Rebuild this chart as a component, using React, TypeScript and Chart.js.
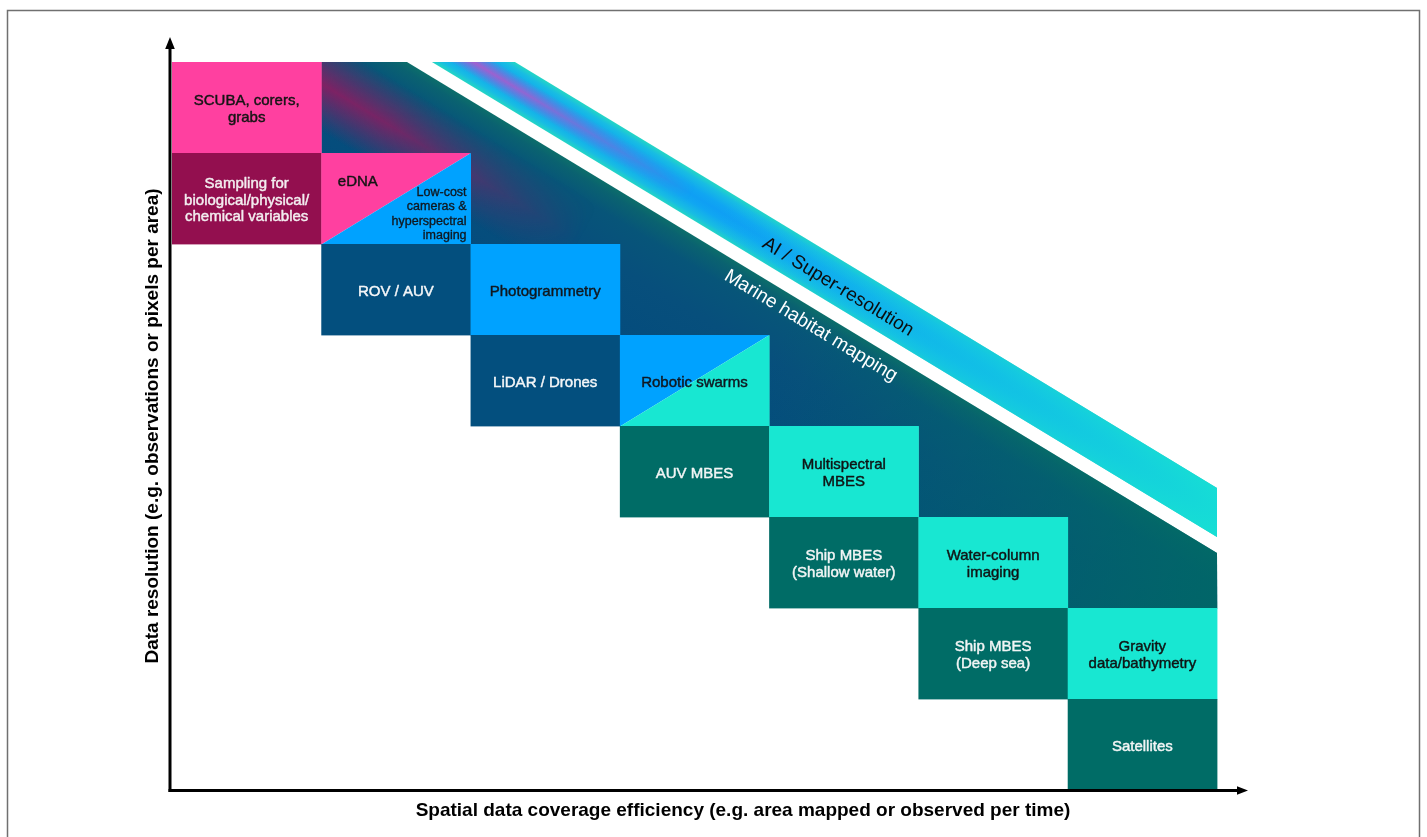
import React, { useEffect, useRef } from 'react';
import { Chart, registerables } from 'chart.js';

Chart.register(...registerables);

const CANVAS_W = 1427;
const CANVAS_H = 837;

// ---- data: cells on a 7 (coverage) x 8 (resolution, top = highest) grid ----
const cellLabels = [
  'SCUBA, corers,\ngrabs',
  'Sampling for\nbiological/physical/\nchemical variables',
  'eDNA',
  'ROV / AUV',
  'Photogrammetry',
  'LiDAR / Drones',
  'Robotic swarms',
  'AUV MBES',
  'Multispectral\nMBES',
  'Ship MBES\n(Shallow water)',
  'Water-column\nimaging',
  'Ship MBES\n(Deep sea)',
  'Gravity\ndata/bathymetry',
  'Satellites',
];
const cellSubLabels = ['', '', 'Low-cost\ncameras &\nhyperspectral\nimaging', '', '', '', '', '', '', '', '', '', '', ''];
const cellCol = [0, 0, 1, 1, 2, 2, 3, 3, 4, 4, 5, 5, 6, 6];
const cellRow = [0, 1, 1, 2, 2, 3, 3, 4, 4, 5, 5, 6, 6, 7];
const cellKind = ['pink', 'wine', 'pink/blue', 'navy', 'blue', 'navy', 'blue/teal', 'darkteal', 'teal', 'darkteal', 'teal', 'darkteal', 'teal', 'darkteal'];

// diagonal bands, in axis units [x0, y0, x1, y1]
const marineEdge = [1.574, 0, 7, 5.396];
const aiLowerEdge = [1.741, 0, 7, 5.22];
const aiUpperEdge = [2.297, 0, 7, 4.68];
const bandLabels = ['Marine habitat mapping', 'AI / Super-resolution'];
const bandLabelX = [4.28, 4.461];
const bandLabelY = [2.9, 2.473];

const xAxisTitle = 'Spatial data coverage efficiency (e.g. area mapped or observed per time)';
const yAxisTitle = 'Data resolution (e.g. observations or pixels per area)';

// ---- styles ----
const PALETTE: Record<string, string> = {
  pink: '#ff40a0',
  wine: '#930f4f',
  blue: '#00a2ff',
  navy: '#034f7e',
  teal: '#18e7d2',
  darkteal: '#006c66',
};
const TEXT_COLOR: Record<string, string> = {
  pink: '#151515',
  wine: '#f3eef0',
  blue: '#101820',
  navy: '#f4f6f8',
  teal: '#101515',
  darkteal: '#f2f5f5',
};
const FONT = '"Liberation Sans", Arial, Helvetica, sans-serif';

function drawLines(ctx: CanvasRenderingContext2D, text: string, x: number, y: number, lh: number, align: CanvasTextAlign, weight = 0.45) {
  const lines = text.split('\n');
  ctx.textAlign = align;
  ctx.textBaseline = 'middle';
  ctx.lineWidth = weight;
  ctx.strokeStyle = ctx.fillStyle as string;
  ctx.lineJoin = 'round';
  const y0 = y - ((lines.length - 1) * lh) / 2;
  lines.forEach((l, i) => {
    ctx.fillText(l, x, y0 + i * lh);
    if (weight > 0) ctx.strokeText(l, x, y0 + i * lh);
  });
}

const diagramPlugin = {
  id: 'diagram',
  afterDraw(chart: any) {
    const ctx: CanvasRenderingContext2D = chart.ctx;
    const xs = chart.scales.x;
    const ys = chart.scales.y;
    const px = (v: number) => xs.getPixelForValue(v);
    const py = (v: number) => ys.getPixelForValue(v);
    const W = chart.width;
    const H = chart.height;

    ctx.save();
    ctx.fillStyle = '#ffffff';
    ctx.fillRect(0, 0, W, H);

    // outer frame
    ctx.strokeStyle = '#707070';
    ctx.lineWidth = 1.5;
    ctx.beginPath();
    ctx.moveTo(7.5, H + 5);
    ctx.lineTo(7.5, 10.5);
    ctx.lineTo(1419.5, 10.5);
    ctx.lineTo(1419.5, H + 5);
    ctx.stroke();

    // ---------- Marine habitat mapping region ----------
    const m0x = px(marineEdge[0]), m0y = py(marineEdge[1]);
    const m1x = px(marineEdge[2]), m1y = py(marineEdge[3]);
    const thM = Math.atan2(m1y - m0y, m1x - m0x);
    const lenM = Math.hypot(m1x - m0x, m1y - m0y);

    ctx.save();
    ctx.beginPath();
    for (let c = 1; c <= 6; c++) {
      ctx.rect(px(c), py(0), px(c + 1) - px(c) + 0.5, py(c) - py(0) + 0.5);
    }
    ctx.clip();
    ctx.beginPath();
    ctx.moveTo(px(1) - 2, py(0));
    ctx.lineTo(m0x, m0y);
    ctx.lineTo(m1x, m1y);
    ctx.lineTo(px(7) + 2, py(8));
    ctx.lineTo(px(1) - 2, py(8));
    ctx.closePath();
    ctx.clip();

    ctx.save();
    ctx.translate(m0x, m0y);
    ctx.rotate(thM);
    const gAcross = ctx.createLinearGradient(0, 0, 0, 130);
    gAcross.addColorStop(0, '#0c6e6a');
    gAcross.addColorStop(0.06, '#0a6270');
    gAcross.addColorStop(0.2, '#075579');
    gAcross.addColorStop(0.5, '#074f7c');
    gAcross.addColorStop(1, '#044c7d');
    ctx.fillStyle = gAcross;
    ctx.fillRect(-300, -100, lenM + 600, 500);
    const gAlong = ctx.createLinearGradient(0, 0, lenM + 80, 0);
    gAlong.addColorStop(0, 'rgba(0,104,102,0)');
    gAlong.addColorStop(0.45, 'rgba(0,104,102,0)');
    gAlong.addColorStop(0.75, 'rgba(0,104,102,0.5)');
    gAlong.addColorStop(1, 'rgba(0,104,102,1)');
    ctx.fillStyle = gAlong;
    ctx.fillRect(-300, -100, lenM + 600, 500);
    ctx.restore();

    // magenta glow stripe (fades along the band)
    const offM = document.createElement('canvas');
    offM.width = W;
    offM.height = H;
    const om = offM.getContext('2d')!;
    om.translate(m0x, m0y);
    om.rotate(thM);
    const gm = om.createLinearGradient(0, 22, 0, 104);
    gm.addColorStop(0, 'rgba(150,25,95,0)');
    gm.addColorStop(0.5, 'rgba(150,25,95,0.85)');
    gm.addColorStop(1, 'rgba(150,25,95,0)');
    om.fillStyle = gm;
    om.fillRect(-300, -100, lenM + 600, 500);
    om.globalCompositeOperation = 'destination-in';
    const gmMask = om.createLinearGradient(-80, 0, 240, 0);
    gmMask.addColorStop(0, 'rgba(0,0,0,1)');
    gmMask.addColorStop(0.3, 'rgba(0,0,0,0.9)');
    gmMask.addColorStop(1, 'rgba(0,0,0,0)');
    om.fillStyle = gmMask;
    om.fillRect(-300, -100, lenM + 600, 500);
    ctx.drawImage(offM, 0, 0);
    ctx.restore();

    // ---------- AI / Super-resolution band ----------
    const a0x = px(aiUpperEdge[0]), a0y = py(aiUpperEdge[1]);
    const a1x = px(aiUpperEdge[2]), a1y = py(aiUpperEdge[3]);
    const b0x = px(aiLowerEdge[0]), b0y = py(aiLowerEdge[1]);
    const b1x = px(aiLowerEdge[2]), b1y = py(aiLowerEdge[3]);
    const thA = Math.atan2(a1y - a0y, a1x - a0x);
    const thick = (a0x - b0x) * Math.sin(thA);
    const lenA = Math.hypot(b1x - a0x, b1y - a0y);

    ctx.save();
    ctx.beginPath();
    ctx.moveTo(a0x, a0y);
    ctx.lineTo(a1x, a1y);
    ctx.lineTo(b1x, b1y);
    ctx.lineTo(b0x, b0y);
    ctx.closePath();
    ctx.clip();
    ctx.save();
    ctx.translate(a0x, a0y);
    ctx.rotate(thA);
    const ga = ctx.createLinearGradient(0, 0, 0, thick);
    ga.addColorStop(0, '#24d6c4');
    ga.addColorStop(0.13, '#18bde2');
    ga.addColorStop(0.35, '#10a6f2');
    ga.addColorStop(0.5, '#0f9ff4');
    ga.addColorStop(0.65, '#10a6f2');
    ga.addColorStop(0.87, '#18bde2');
    ga.addColorStop(1, '#24d6c4');
    ctx.fillStyle = ga;
    ctx.fillRect(-300, -50, lenA + 600, 200);
    const gaAlong = ctx.createLinearGradient(0, 0, lenA, 0);
    gaAlong.addColorStop(0, 'rgba(18,200,226,0)');
    gaAlong.addColorStop(0.3, 'rgba(18,200,226,0)');
    gaAlong.addColorStop(0.62, 'rgba(18,200,226,0.7)');
    gaAlong.addColorStop(1, 'rgba(22,224,212,0.95)');
    ctx.fillStyle = gaAlong;
    ctx.fillRect(-300, -50, lenA + 600, 200);
    ctx.restore();

    const offA = document.createElement('canvas');
    offA.width = W;
    offA.height = H;
    const oa = offA.getContext('2d')!;
    oa.translate(a0x, a0y);
    oa.rotate(thA);
    const gam = oa.createLinearGradient(0, thick * 0.22, 0, thick * 0.78);
    gam.addColorStop(0, 'rgba(185,85,200,0)');
    gam.addColorStop(0.5, 'rgba(185,85,200,0.9)');
    gam.addColorStop(1, 'rgba(185,85,200,0)');
    oa.fillStyle = gam;
    oa.fillRect(-300, -50, lenA + 600, 200);
    oa.globalCompositeOperation = 'destination-in';
    const gamMask = oa.createLinearGradient(-60, 0, 220, 0);
    gamMask.addColorStop(0, 'rgba(0,0,0,1)');
    gamMask.addColorStop(0.3, 'rgba(0,0,0,0.85)');
    gamMask.addColorStop(1, 'rgba(0,0,0,0)');
    oa.fillStyle = gamMask;
    oa.fillRect(-300, -50, lenA + 600, 200);
    ctx.drawImage(offA, 0, 0);
    ctx.restore();

    // ---------- cells ----------
    cellLabels.forEach((label, i) => {
      const x0 = px(cellCol[i]);
      const x1 = px(cellCol[i] + 1);
      const y0 = py(cellRow[i]);
      const y1 = py(cellRow[i] + 1);
      const kinds = cellKind[i].split('/');
      if (kinds.length === 1) {
        ctx.fillStyle = PALETTE[kinds[0]];
        ctx.fillRect(x0, y0, x1 - x0 + 0.4, y1 - y0 + 0.4);
      } else {
        ctx.fillStyle = PALETTE[kinds[0]];
        ctx.beginPath();
        ctx.moveTo(x0, y0);
        ctx.lineTo(x1 + 0.4, y0);
        ctx.lineTo(x0, y1 + 0.4);
        ctx.closePath();
        ctx.fill();
        ctx.fillStyle = PALETTE[kinds[1]];
        ctx.beginPath();
        ctx.moveTo(x1 + 0.4, y0);
        ctx.lineTo(x1 + 0.4, y1 + 0.4);
        ctx.lineTo(x0, y1 + 0.4);
        ctx.closePath();
        ctx.fill();
      }
      const sub = cellSubLabels[i];
      if (sub) {
        ctx.fillStyle = TEXT_COLOR[kinds[0]];
        ctx.font = `15px ${FONT}`;
        drawLines(ctx, label, x0 + (x1 - x0) * 0.245, y0 + (y1 - y0) * 0.32, 16.5, 'center');
        ctx.fillStyle = TEXT_COLOR[kinds[1]];
        ctx.font = `12.5px ${FONT}`;
        drawLines(ctx, sub, x1 - 4, y1 - 30, 14.5, 'right', 0.35);
      } else {
        ctx.fillStyle = TEXT_COLOR[kinds[0]];
        ctx.font = `15px ${FONT}`;
        drawLines(ctx, label, (x0 + x1) / 2, (y0 + y1) / 2 + 2, 16.5, 'center');
      }
    });

    // ---------- band labels ----------
    ctx.save();
    ctx.translate(px(bandLabelX[0]), py(bandLabelY[0]));
    ctx.rotate(thM);
    ctx.fillStyle = '#ffffff';
    ctx.font = `19px ${FONT}`;
    ctx.textAlign = 'center';
    ctx.textBaseline = 'middle';
    ctx.fillText(bandLabels[0], 0, 0);
    ctx.restore();

    ctx.save();
    ctx.translate(px(bandLabelX[1]), py(bandLabelY[1]));
    ctx.rotate(thA);
    ctx.fillStyle = '#0c0c0c';
    ctx.font = `19px ${FONT}`;
    ctx.textAlign = 'center';
    ctx.textBaseline = 'middle';
    ctx.fillText(bandLabels[1], 0, 0);
    ctx.restore();

    // ---------- axes ----------
    const ox = px(0) - 2;
    const oy = py(8) + 0.5;
    ctx.strokeStyle = '#000';
    ctx.fillStyle = '#000';
    ctx.lineWidth = 3;
    ctx.beginPath();
    ctx.moveTo(ox, oy + 1.5);
    ctx.lineTo(ox, py(0) - 14);
    ctx.stroke();
    ctx.beginPath();
    ctx.moveTo(ox, py(0) - 25);
    ctx.lineTo(ox - 4.8, py(0) - 13);
    ctx.lineTo(ox + 4.8, py(0) - 13);
    ctx.closePath();
    ctx.fill();

    ctx.beginPath();
    ctx.moveTo(ox - 1.5, oy);
    ctx.lineTo(px(7) + 22, oy);
    ctx.stroke();
    ctx.beginPath();
    ctx.moveTo(px(7) + 31, oy);
    ctx.lineTo(px(7) + 20, oy - 4.3);
    ctx.lineTo(px(7) + 20, oy + 4.3);
    ctx.closePath();
    ctx.fill();

    // ---------- axis titles ----------
    ctx.fillStyle = '#000';
    ctx.font = `bold 19px ${FONT}`;
    ctx.textAlign = 'center';
    ctx.textBaseline = 'middle';
    ctx.fillText(xAxisTitle, px(0) + 571, oy + 20);

    ctx.save();
    ctx.translate(ox - 17, (py(0) + py(8)) / 2);
    ctx.rotate(-Math.PI / 2);
    ctx.fillText(yAxisTitle, 0, 0);
    ctx.restore();

    ctx.restore();
  },
};

export default function App() {
  const ref = useRef<HTMLCanvasElement>(null);
  useEffect(() => {
    const canvas = ref.current!;
    const chart = new Chart(canvas, {
      type: 'scatter',
      data: { datasets: [{ data: [] }] },
      options: {
        responsive: false,
        animation: false,
        devicePixelRatio: 1,
        layout: { padding: { left: 172, right: CANVAS_W - 1217, top: 62, bottom: CANVAS_H - 790 } },
        plugins: { legend: { display: false }, tooltip: { enabled: false } },
        scales: {
          x: { type: 'linear', min: 0, max: 7, display: false },
          y: { type: 'linear', min: 0, max: 8, reverse: true, display: false },
        },
      },
      plugins: [diagramPlugin],
    } as any);
    return () => chart.destroy();
  }, []);
  return (
    <div style={{ position: 'fixed', left: 0, top: 0, width: CANVAS_W, height: CANVAS_H, background: '#fff' }}>
      <canvas ref={ref} width={CANVAS_W} height={CANVAS_H} style={{ display: 'block' }} />
    </div>
  );
}
